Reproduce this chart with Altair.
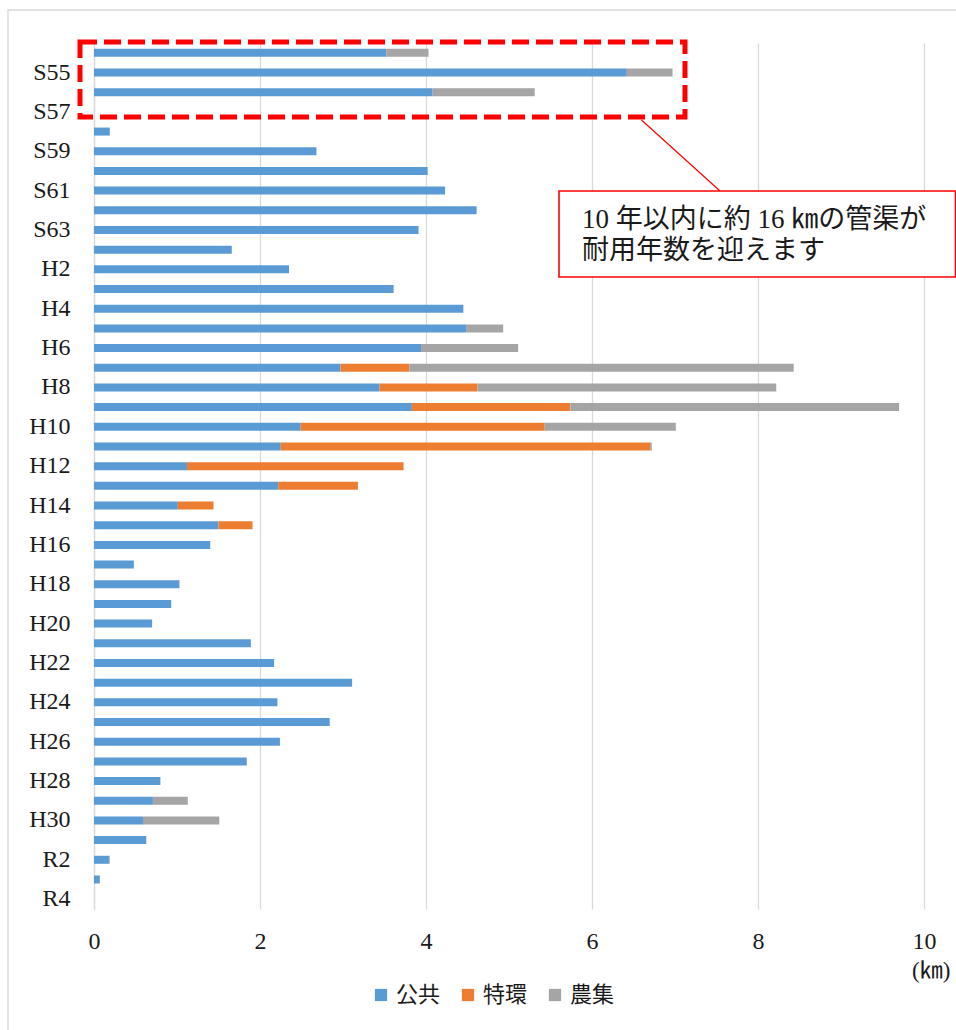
import altair as alt
import pandas as pd

# ---- data (km of sewer pipe by construction year) ----
categories = ["S54", "S55", "S56", "S57", "S58", "S59", "S60", "S61", "S62", "S63",
              "H1", "H2", "H3", "H4", "H5", "H6", "H7", "H8", "H9", "H10",
              "H11", "H12", "H13", "H14", "H15", "H16", "H17", "H18", "H19", "H20",
              "H21", "H22", "H23", "H24", "H25", "H26", "H27", "H28", "H29", "H30",
              "R1", "R2", "R3", "R4"]
kokyo = [3.52, 6.42, 4.08, 0.00, 0.19, 2.68, 4.02, 4.23, 4.61, 3.91,
         1.66, 2.35, 3.61, 4.45, 4.49, 3.94, 2.97, 3.44, 3.83, 2.49,
         2.25, 1.12, 2.22, 1.01, 1.50, 1.40, 0.48, 1.03, 0.93, 0.70,
         1.89, 2.17, 3.11, 2.21, 2.84, 2.24, 1.84, 0.80, 0.71, 0.59,
         0.63, 0.18, 0.07, 0.00]
tokkan = [0, 0, 0, 0, 0, 0, 0, 0, 0, 0,
          0, 0, 0, 0, 0, 0, 0.83, 1.18, 1.91, 2.94,
          4.45, 2.61, 0.96, 0.43, 0.41, 0, 0, 0, 0, 0,
          0, 0, 0, 0, 0, 0, 0, 0, 0, 0,
          0, 0, 0, 0]
noshu = [0.51, 0.55, 1.23, 0, 0, 0, 0, 0, 0, 0,
         0, 0, 0, 0, 0.44, 1.17, 4.63, 3.60, 3.96, 1.58,
         0.02, 0, 0, 0, 0, 0, 0, 0, 0, 0,
         0, 0, 0, 0, 0, 0, 0, 0, 0.42, 0.92,
         0, 0.01, 0, 0]
series_names = ["公共", "特環", "農集"]
series_colors = ["#5B9BD5", "#ED7D31", "#A5A5A5"]
shown_labels = ["S55", "S57", "S59", "S61", "S63", "H2", "H4", "H6", "H8", "H10",
                "H12", "H14", "H16", "H18", "H20", "H22", "H24", "H26", "H28", "H30",
                "R2", "R4"]
x_ticks = [0, 2, 4, 6, 8, 10]
callout_lines = ["10 年以内に約 16 ㎞の管渠が", "耐用年数を迎えます"]
unit_label = "(㎞)"

rows = []
for i, c in enumerate(categories):
    for k, (name, vals) in enumerate(zip(series_names, [kokyo, tokkan, noshu])):
        if vals[i] > 0:
            rows.append({"year": c, "series": name, "value": vals[i], "ord": k})
df = pd.DataFrame(rows)

SERIF = "'Liberation Serif', 'Noto Sans CJK JP', serif"
CJK = "'Liberation Serif', 'Noto Sans CJK JP', sans-serif"
GRID = "#D9D9D9"

W, H = 830, 866
PL, PT = 94, 43

bars = alt.Chart(df).mark_bar(size=8).encode(
    x=alt.X("value:Q", stack="zero",
            scale=alt.Scale(domain=[0, 10], nice=False),
            axis=alt.Axis(values=x_ticks, title=None, domain=False, ticks=False, tickSize=0,
                          grid=True, gridColor=GRID, gridWidth=1.3,
                          labelFont=SERIF, labelFontSize=24, labelColor="#1a1a1a",
                          labelPadding=20, labelFlush=False)),
    y=alt.Y("year:N", sort=categories,
            scale=alt.Scale(domain=categories, paddingInner=0, paddingOuter=0),
            axis=alt.Axis(values=shown_labels, title=None, ticks=False, tickSize=0,
                          domain=True, domainColor=GRID, domainWidth=1.3, grid=False,
                          labelFont=SERIF, labelFontSize=24, labelColor="#1a1a1a",
                          labelPadding=24)),
    color=alt.Color("series:N",
                    scale=alt.Scale(domain=series_names, range=series_colors),
                    legend=alt.Legend(orient="none", legendX=276, legendY=941,
                                      direction="horizontal", title=None,
                                      symbolType="square", symbolSize=150,
                                      symbolStrokeWidth=0, labelFont=CJK,
                                      labelFontSize=22, labelColor="#1a1a1a",
                                      labelOffset=4, columnPadding=16, padding=0)),
    order=alt.Order("ord:Q", sort="ascending"),
)

one = pd.DataFrame({"k": [0]})

border = alt.Chart(one).mark_rect(fill=None, fillOpacity=0, stroke=GRID, strokeWidth=1.3).encode(
    x=alt.value(8 - PL), x2=alt.value(W + 60), y=alt.value(10 - PT), y2=alt.value(H + 200))

dashed = alt.Chart(one).mark_rect(fill=None, fillOpacity=0, stroke="#FF0000", strokeWidth=5,
                                  strokeDash=[17, 7]).encode(
    x=alt.value(80 - PL), x2=alt.value(685 - PL), y=alt.value(42 - PT), y2=alt.value(117 - PT))

leader = alt.Chart(one).mark_rule(color="#FF0000", strokeWidth=1.2).encode(
    x=alt.value(641.5 - PL), y=alt.value(120 - PT), x2=alt.value(720 - PL), y2=alt.value(191 - PT))

box = alt.Chart(one).mark_rect(fill="white", stroke="#FF0000", strokeWidth=1.6).encode(
    x=alt.value(559 - PL), x2=alt.value(955.5 - PL), y=alt.value(191 - PT), y2=alt.value(277 - PT))

txt1 = alt.Chart(one).mark_text(align="left", baseline="middle", font=CJK, fontSize=27,
                                color="#1a1a1a").encode(
    x=alt.value(582 - PL), y=alt.value(220 - PT), text=alt.value(callout_lines[0]))
txt2 = alt.Chart(one).mark_text(align="left", baseline="middle", font=CJK, fontSize=27,
                                color="#1a1a1a").encode(
    x=alt.value(582 - PL), y=alt.value(251 - PT), text=alt.value(callout_lines[1]))

unit = alt.Chart(one).mark_text(align="left", baseline="middle", font=CJK, fontSize=23,
                                color="#1a1a1a").encode(
    x=alt.value(912 - PL), y=alt.value(971 - PT), text=alt.value(unit_label))

chart = alt.layer(border, bars, dashed, leader, box, txt1, txt2, unit).properties(
    width=W, height=H,
    padding={"left": PL, "top": PT, "right": 956 - PL - W, "bottom": 1030 - PT - H},
    autosize=alt.AutoSizeParams(type="none"),
    background="white",
).configure_view(strokeWidth=0)

chart.save("out.html", embed_options={"renderer": "svg", "actions": False})
